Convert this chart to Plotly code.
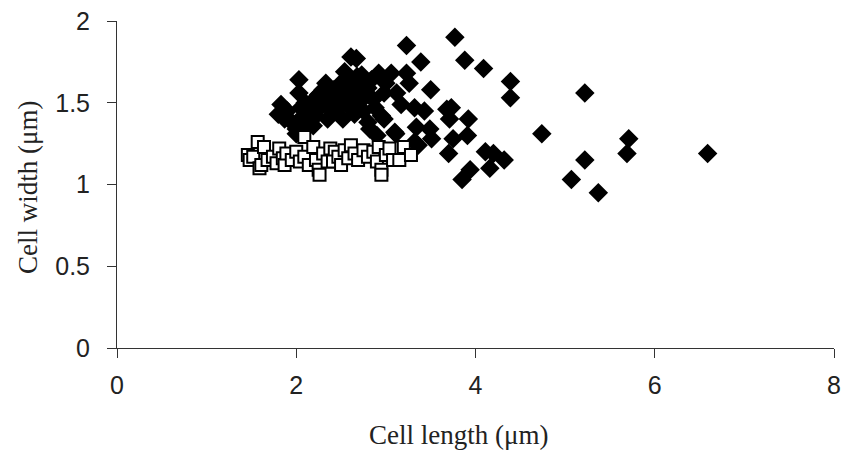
import plotly.graph_objects as go

# Filled diamonds series
dia_x = [1.80, 1.83, 1.87, 1.90, 1.95, 2.00, 2.00, 2.03, 2.03, 2.05, 2.08, 2.10, 2.12, 2.15,
         2.19, 2.20, 2.22, 2.25, 2.28, 2.30, 2.33, 2.35, 2.38, 2.40, 2.42, 2.45, 2.48, 2.50,
         2.52, 2.54, 2.55, 2.58, 2.60, 2.61, 2.63, 2.65, 2.67, 2.68, 2.70, 2.72, 2.73, 2.75,
         2.77, 2.80, 2.80, 2.82, 2.84, 2.86, 2.88, 2.90, 2.92, 2.95, 2.98, 2.98, 3.00, 3.06,
         3.10, 3.12, 3.17, 3.23, 3.23, 3.26, 3.32, 3.32, 3.36, 3.39, 3.43, 3.49, 3.50, 3.51,
         3.34, 3.11, 3.68, 3.71, 3.73, 3.75, 3.77, 3.70, 3.85, 3.88, 3.91, 3.92, 3.94, 4.09,
         4.11, 4.16, 4.20, 4.32, 4.39, 4.39, 4.74, 5.07, 5.22, 5.22, 5.37, 5.69, 5.71, 6.59]
dia_y = [1.43, 1.49, 1.40, 1.45, 1.38, 1.34, 1.31, 1.56, 1.64, 1.47, 1.42, 1.50, 1.38, 1.45,
         1.36, 1.52, 1.42, 1.55, 1.48, 1.58, 1.62, 1.40, 1.53, 1.45, 1.58, 1.46, 1.61, 1.52,
         1.40, 1.69, 1.57, 1.48, 1.63, 1.78, 1.54, 1.43, 1.77, 1.66, 1.50, 1.60, 1.67, 1.45,
         1.55, 1.59, 1.38, 1.34, 1.64, 1.52, 1.47, 1.30, 1.68, 1.42, 1.40, 1.56, 1.62, 1.68,
         1.32, 1.56, 1.49, 1.68, 1.85, 1.62, 1.47, 1.26, 1.24, 1.75, 1.45, 1.34, 1.58, 1.28,
         1.35, 1.31, 1.46, 1.40, 1.47, 1.28, 1.90, 1.19, 1.03, 1.76, 1.30, 1.40, 1.09, 1.71,
         1.20, 1.10, 1.19, 1.15, 1.63, 1.53, 1.31, 1.03, 1.56, 1.15, 0.95, 1.19, 1.28, 1.19]

# Open squares series
sq_x = [1.46, 1.48, 1.52, 1.57, 1.59, 1.61, 1.64, 1.68, 1.74, 1.78, 1.81, 1.85, 1.87, 1.89,
        1.95, 2.00, 2.04, 2.09, 2.09, 2.14, 2.19, 2.22, 2.25, 2.26, 2.30, 2.35, 2.38, 2.43,
        2.41, 2.47, 2.50, 2.54, 2.58, 2.61, 2.65, 2.69, 2.75, 2.80, 2.86, 2.90, 2.92, 2.95,
        2.95, 3.00, 3.04, 3.08, 3.15, 3.20, 3.28]
sq_y = [1.18, 1.15, 1.17, 1.26, 1.10, 1.12, 1.23, 1.15, 1.17, 1.13, 1.22, 1.16, 1.12, 1.19,
        1.15, 1.20, 1.14, 1.29, 1.17, 1.12, 1.23, 1.15, 1.09, 1.06, 1.19, 1.14, 1.22, 1.20,
        1.14, 1.17, 1.12, 1.21, 1.16, 1.24, 1.19, 1.15, 1.21, 1.17, 1.20, 1.14, 1.23, 1.09,
        1.06, 1.18, 1.22, 1.15, 1.15, 1.23, 1.18]

x_ticks = [0, 2, 4, 6, 8]
y_ticks = [0, 0.5, 1, 1.5, 2]
y_tick_text = ["0", "0.5", "1", "1.5", "2"]
x_title = "Cell length (μm)"
y_title = "Cell width (μm)"

tick_font = dict(family="Liberation Sans, Arial", size=25, color="#222")
title_font = dict(family="Liberation Serif, Times New Roman", size=27, color="#222")

fig = go.Figure()
fig.add_trace(go.Scatter(
    x=dia_x, y=dia_y, mode="markers", name="diamonds",
    marker=dict(symbol="diamond", size=15, color="black", line=dict(width=0)),
    cliponaxis=False,
))
fig.add_trace(go.Scatter(
    x=sq_x, y=sq_y, mode="markers", name="squares",
    marker=dict(symbol="square", size=12, color="white", line=dict(width=2, color="black")),
    cliponaxis=False,
))

fig.update_layout(
    width=844, height=455,
    margin=dict(l=117, r=10, t=21, b=107),
    paper_bgcolor="white", plot_bgcolor="white",
    showlegend=False,
    xaxis=dict(
        range=[0, 8], tickvals=x_ticks, ticktext=[str(v) for v in x_ticks],
        showgrid=False, zeroline=False, showline=True, linecolor="#333", linewidth=1,
        ticks="outside", ticklen=9, tickcolor="#333", automargin=False,
        ticklabelstandoff=6,
        tickfont=tick_font,
    ),
    yaxis=dict(
        range=[0, 2], tickvals=y_ticks, ticktext=y_tick_text,
        showgrid=False, zeroline=False, showline=True, linecolor="#333", linewidth=1,
        ticks="outside", ticklen=9, tickcolor="#333", automargin=False,
        ticklabelstandoff=12,
        tickfont=tick_font,
    ),
    annotations=[
        dict(text=x_title, xref="paper", yref="paper", x=(458 - 117) / 717, y=(348 - 435) / 327,
             xanchor="center", yanchor="middle", showarrow=False, font=title_font),
        dict(text=y_title, xref="paper", yref="paper", x=(28 - 117) / 717, y=(348 - 188) / 327,
             xanchor="center", yanchor="middle", showarrow=False, textangle=-90, font=title_font),
    ],
)

fig.write_html("out.html", config={"displayModeBar": False},
               post_script="document.body.style.margin='0px';document.body.style.overflow='hidden';")
